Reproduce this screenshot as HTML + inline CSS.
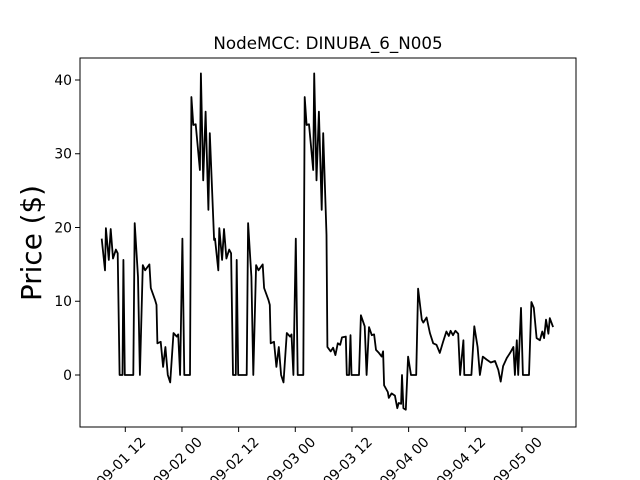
<!DOCTYPE html>
<html><head><meta charset="utf-8"><style>body{margin:0;background:#fff}svg{display:block}</style></head>
<body>
<svg id="chart" width="640" height="480" xmlns="http://www.w3.org/2000/svg" font-family="DejaVu Sans, Liberation Sans, sans-serif">
<rect width="640" height="480" fill="#fff"/>
<text x="328" y="49" font-size="16.7" text-anchor="middle">NodeMCC: DINUBA_6_N005</text>
<text x="0" y="0" font-size="27.8" text-anchor="middle" transform="translate(41,243) rotate(-90)">Price ($)</text>
<g id="ticks"></g>
<polyline id="line" fill="none" stroke="#000" stroke-width="1.8" stroke-linejoin="round"/>
<rect x="80" y="58" width="496" height="369" fill="none" stroke="#000" stroke-width="1"/>
</svg>
<script>
// hours since 2023-09-01 00:00
const hours = [7.0,7.7,7.9,8.5,8.9,9.4,10.0,10.4,10.8,11.4,11.6,11.9,13.7,14.0,14.7,15.1,15.7,16.2,17.1,17.4,18.3,18.6,18.8,19.5,20.0,20.5,21.0,21.5,22.2,22.9,23.2,23.6,24.1,24.5,25.7,26.0,26.4,26.9,27.8,28.0,28.5,29.0,29.6,29.9,30.8,
31.0,31.7,31.9,32.5,32.9,33.4,34.0,34.4,34.8,35.4,35.6,35.9,37.7,38.0,38.7,39.1,39.7,40.2,41.1,41.4,42.3,42.6,42.8,43.5,44.0,44.5,45.0,45.5,46.2,46.9,47.2,47.6,48.1,48.5,49.7,50.0,50.4,50.9,51.8,52.0,52.5,53.0,53.6,53.9,54.6,
54.8,55.5,56.0,56.5,57.0,57.5,57.9,58.7,58.9,59.4,59.7,59.9,61.5,61.9,62.7,63.1,63.6,64.2,64.7,65.1,65.7,66.3,66.6,66.8,67.6,67.8,68.4,69.1,69.6,69.9,70.4,70.6,70.9,71.4,71.9,72.5,73.6,74.0,74.8,75.1,75.8,76.5,77.2,77.9,78.6,79.3,80.0,80.5,80.9,81.4,81.9,82.5,82.9,83.6,83.8,85.3,85.9,86.6,87.1,87.7,88.5,89.4,90.3,91.0,91.5,92.0,92.8,93.5,94.2,94.5,94.9,95.2,95.8,96.2,97.5,98.0,98.5,99.1,99.8,100.3,100.7,101.1,101.6,101.9,102.6];
const prices = [18.5,14.2,19.9,15.6,19.8,15.8,17,16.5,0,0,15.6,0,0,20.6,13.3,0,14.9,14.2,15,11.8,10.2,9.5,4.3,4.5,1.1,3.8,0,-1,5.7,5.2,5.5,0,18.5,0,0,37.7,33.9,34,27.8,40.9,26.4,35.7,22.4,32.8,18.3,
18.5,14.2,19.9,15.6,19.8,15.8,17,16.5,0,0,15.6,0,0,20.6,13.3,0,14.9,14.2,15,11.8,10.2,9.5,4.3,4.5,1.1,3.8,0,-1,5.7,5.2,5.5,0,18.5,0,0,37.7,33.9,34,27.8,40.9,26.4,35.7,22.4,32.8,19,
3.8,3.2,3.7,2.7,4.3,4.1,5.1,5.2,0,0,5.4,0,0,8.1,6.6,0,6.5,5.4,5.5,3.4,3.0,2.5,3.2,-1.4,-2.3,-3.1,-2.5,-2.8,-4.5,-3.8,-3.9,0,-4.5,-4.7,2.5,0,0,11.7,7.5,7.1,7.8,5.7,4.3,4.1,3.0,4.5,5.9,5.3,6,5.4,6,5.6,0,4.7,0,0,6.6,3.8,0,2.5,2.1,1.7,1.9,0.7,-0.9,1.2,2.3,3.0,3.8,0,4.7,0,9.1,0,0,9.9,9.1,5.0,4.7,5.9,5.0,7.5,5.6,7.7,6.5];
const yTicks = [0,10,20,30,40];
const xTickHours = [12,24,36,48,60,72,84,96];
const xTickLabels = ["09-01 12","09-02 00","09-02 12","09-03 00","09-03 12","09-04 00","09-04 12","09-05 00"];

const NS = "http://www.w3.org/2000/svg";
function xPos(h){ return 125.3 + (h - 12) * 4.722; }
function yPos(v){ return 375 - v * 7.375; }
const pts = hours.map((h,i) => xPos(h).toFixed(1) + "," + yPos(prices[i]).toFixed(1));
document.getElementById("line").setAttribute("points", pts.join(" "));
const g = document.getElementById("ticks");
yTicks.forEach(v => {
  const y = yPos(v);
  const l = document.createElementNS(NS,"line");
  
  
  l.setAttribute("x1",75); l.setAttribute("x2",80); l.setAttribute("y1",y); l.setAttribute("y2",y); l.setAttribute("stroke","#000");
  g.appendChild(l);
  const t = document.createElementNS(NS,"text");
  
  
  t.setAttribute("x",72); t.setAttribute("y",y+4.8); t.setAttribute("font-size","13.9"); t.setAttribute("text-anchor","end");
  t.textContent = v;
  g.appendChild(t);
});
xTickHours.forEach((h,i) => {
  const x = xPos(h);
  const l = document.createElementNS(NS,"line");
  
  
  l.setAttribute("x1",x); l.setAttribute("x2",x); l.setAttribute("y1",427); l.setAttribute("y2",432); l.setAttribute("stroke","#000");
  g.appendChild(l);
  const t = document.createElementNS(NS,"text");
  
  
  t.setAttribute("x",0); t.setAttribute("y",0); t.setAttribute("font-size","13.9"); t.setAttribute("text-anchor","middle");
  t.setAttribute("transform","translate("+(x-1)+",465) rotate(-45)");
  t.textContent = xTickLabels[i];
  g.appendChild(t);
});
</script>
</body></html>
